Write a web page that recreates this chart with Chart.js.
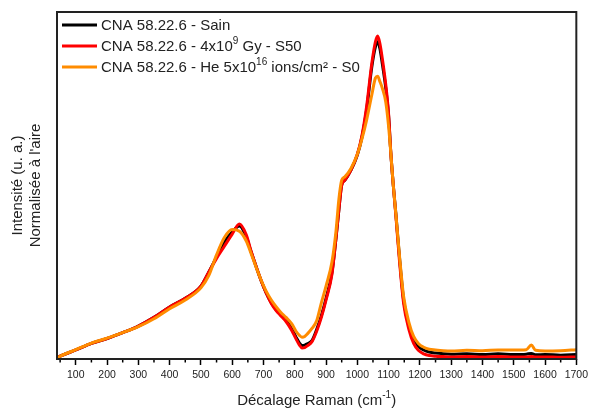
<!DOCTYPE html>
<html>
<head>
<meta charset="utf-8">
<script src="https://cdn.jsdelivr.net/npm/chart.js@4"></script>
<style>
  html, body { margin: 0; padding: 0; background: #fff; }
  #wrap { width: 592px; height: 410px; }
</style>
</head>
<body>
<div id="wrap"><canvas id="chart" width="592" height="410"></canvas></div>
<script>
// Raman shift (cm-1)
const shift = [40, 50, 100, 150, 200, 250, 300, 350, 400, 450, 500, 525, 550, 575, 600, 623, 645, 660, 677, 695,
  709, 725, 741, 755, 772, 790, 804, 815, 823, 832, 840, 855, 870, 885, 900, 919, 932, 941, 950, 960,
  980, 1000, 1015, 1030, 1046, 1058, 1065, 1072, 1080, 1091, 1100, 1107, 1115, 1123, 1135, 1148, 1165, 1180, 1195, 1212,
  1230, 1250, 1275, 1300, 1350, 1400, 1450, 1500, 1540, 1556, 1570, 1600, 1650, 1700];

// normalised intensity (arbitrary units)
const sain = [0.3, 0.8, 2.6, 4.5, 5.9, 7.6, 9.5, 12.0, 15.0, 17.5, 21.0, 25.0, 29.4, 33.7, 36.6, 38.3, 35.2, 31.0, 26.5, 22.0,
  19.0, 16.2, 14.1, 12.8, 11.2, 8.8, 6.3, 4.6, 3.9, 4.0, 4.4, 5.3, 8.5, 12.5, 17.5, 25.0, 35.0, 43.0, 50.2, 51.5,
  54.5, 58.8, 64.0, 72.0, 84.0, 90.0, 91.4, 89.5, 85.0, 78.0, 70.0, 59.4, 50.0, 42.0, 29.0, 17.0, 9.5, 5.5, 3.6, 2.6,
  2.0, 1.7, 1.5, 1.4, 1.5, 1.3, 1.5, 1.3, 1.4, 1.6, 1.2, 1.3, 1.1, 1.3];

const s50 = [0.3, 0.8, 2.6, 4.5, 5.9, 7.6, 9.5, 12.0, 15.0, 17.5, 21.0, 25.0, 29.0, 32.5, 36.0, 38.9, 35.8, 31.2, 26.5, 22.0,
  19.0, 16.0, 13.9, 12.5, 10.8, 8.3, 5.8, 4.0, 3.2, 3.3, 3.8, 5.0, 8.0, 12.0, 17.0, 24.5, 35.0, 43.0, 50.0, 51.5,
  54.5, 59.0, 64.5, 73.0, 85.0, 91.5, 93.1, 91.0, 86.5, 79.0, 70.5, 59.5, 50.0, 41.5, 28.0, 16.0, 8.5, 4.5, 2.5, 1.5,
  1.0, 0.8, 0.7, 0.6, 0.7, 0.6, 0.7, 0.6, 0.6, 0.7, 0.6, 0.6, 0.5, 0.6];

const s0 = [0.3, 0.8, 2.7, 4.6, 6.0, 7.6, 9.3, 11.6, 14.5, 17.0, 20.5, 24.0, 30.0, 35.0, 37.3, 36.8, 34.0, 30.5, 26.3, 22.2,
  19.5, 17.0, 15.0, 13.5, 12.0, 10.2, 8.0, 6.8, 6.3, 6.5, 7.2, 8.8, 11.0, 16.2, 21.0, 28.0, 37.0, 46.0, 51.5, 52.5,
  55.0, 59.0, 63.5, 69.0, 76.0, 81.0, 81.5, 80.0, 78.0, 74.0, 67.0, 59.4, 50.0, 42.0, 29.5, 18.0, 10.5, 6.5, 4.5, 3.4,
  2.8, 2.6, 2.4, 2.3, 2.5, 2.4, 2.6, 2.6, 2.7, 4.0, 2.5, 2.3, 2.4, 2.7];

const seriesNames = ['CNA 58.22.6 - Sain', 'CNA 58.22.6 - 4x10^{9} Gy - S50', 'CNA 58.22.6 - He 5x10^{16} ions/cm\u00b2 - S0'];
const seriesColors = ['#000000', '#ff0000', '#ff8c00'];
const xTicks = [100, 200, 300, 400, 500, 600, 700, 800, 900, 1000, 1100, 1200, 1300, 1400, 1500, 1600, 1700];
const xTitle = 'D\u00e9calage Raman (cm^{-1})';
const yTitle = ['Intensit\u00e9 (u. a.)', 'Normalis\u00e9e \u00e0 l\'aire'];

const FONT = 'Arial, "Liberation Sans", sans-serif';

function pts(ys) {
  return shift.map((x, i) => ({ x: x, y: ys[i] }));
}

// draws text with ^{...} superscripts, returns width
function richText(ctx, text, x, y, size, measureOnly) {
  const parts = text.split(/(\^\{[^}]*\})/);
  let cx = x;
  for (const p of parts) {
    if (!p) continue;
    let sup = p.startsWith('^{');
    let t = sup ? p.slice(2, -1) : p;
    ctx.font = (sup ? Math.round(size * 0.65) : size) + 'px ' + FONT;
    if (!measureOnly) ctx.fillText(t, cx, sup ? y - size * 0.4 : y);
    cx += ctx.measureText(t).width;
  }
  return cx - x;
}

const decor = {
  id: 'decor',
  afterDraw(chart) {
    const ctx = chart.ctx;
    const a = chart.chartArea;
    const xs = chart.scales.x;
    ctx.save();
    // minor ticks
    ctx.strokeStyle = '#000';
    ctx.lineWidth = 1.5;
    for (let v = 50; v < 1700; v += 100) {
      const px = xs.getPixelForValue(v);
      ctx.beginPath();
      ctx.moveTo(px, a.bottom);
      ctx.lineTo(px, a.bottom + 3.5);
      ctx.stroke();
    }
    // frame
    ctx.strokeStyle = '#222';
    ctx.lineWidth = 2;
    ctx.strokeRect(a.left, a.top, a.right - a.left, a.bottom - a.top);
    // legend
    ctx.textBaseline = 'middle';
    seriesNames.forEach((name, i) => {
      const y = a.top + 13 + i * 21;
      ctx.strokeStyle = seriesColors[i];
      ctx.lineWidth = 3;
      ctx.beginPath();
      ctx.moveTo(a.left + 5, y);
      ctx.lineTo(a.left + 40, y);
      ctx.stroke();
      ctx.fillStyle = '#222';
      richText(ctx, name, a.left + 44, y + 1, 15);
    });
    // x title
    const w = richText(ctx, xTitle, 0, 0, 15, true);
    const cxm = (a.left + a.right) / 2;
    richText(ctx, xTitle, cxm - w / 2, 401, 15);
    ctx.restore();
  }
};

new Chart(document.getElementById('chart'), {
  type: 'line',
  data: {
    datasets: [
      { label: seriesNames[0], data: pts(sain), borderColor: seriesColors[0], order: 3 },
      { label: seriesNames[1], data: pts(s50), borderColor: seriesColors[1], order: 2 },
      { label: seriesNames[2], data: pts(s0), borderColor: seriesColors[2], order: 1 }
    ]
  },
  options: {
    responsive: false,
    animation: false,
    layout: { padding: { top: 12, right: 14 } },
    elements: {
      point: { radius: 0 },
      line: { borderWidth: 3, cubicInterpolationMode: 'monotone' }
    },
    plugins: { legend: { display: false }, tooltip: { enabled: false } },
    scales: {
      x: {
        type: 'linear',
        min: 40,
        max: 1700,
        afterBuildTicks: s => { s.ticks = xTicks.map(v => ({ value: v })); },
        afterFit: s => { s.height = 51; },
        grid: { drawOnChartArea: false, tickLength: 6, tickColor: '#000', tickWidth: 1.5 },
        border: { display: false },
        ticks: {
          color: '#222', font: { size: 10.5, family: FONT }, padding: 4, maxRotation: 0, autoSkip: false,
          callback: v => String(v)
        }
      },
      y: {
        min: 0,
        max: 100,
        afterFit: s => { s.width = 57; },
        grid: { display: false },
        border: { display: false },
        ticks: { display: false },
        title: { display: true, text: yTitle, color: '#222', font: { size: 15, family: FONT }, padding: { top: 9, bottom: 0 } }
      }
    }
  },
  plugins: [decor]
});
</script>
</body>
</html>
